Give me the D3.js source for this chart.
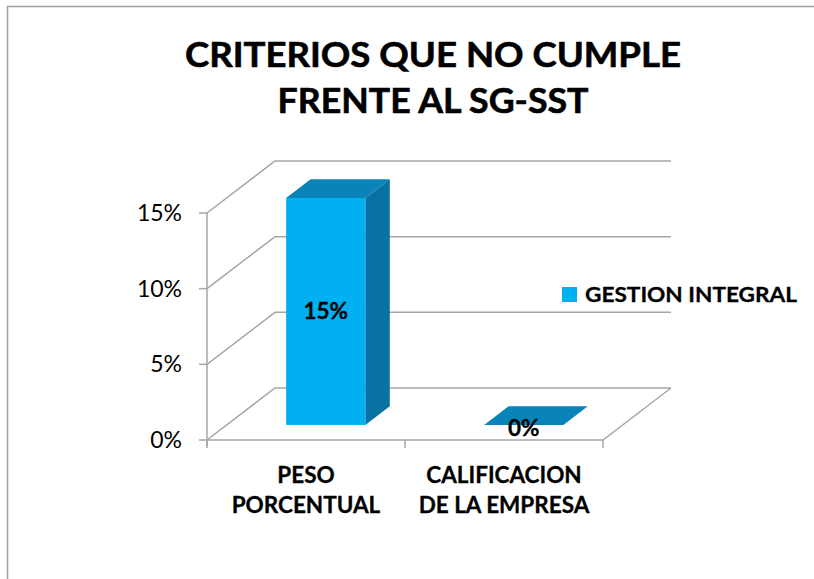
<!DOCTYPE html>
<html>
<head>
<meta charset="utf-8">
<script src="https://cdn.jsdelivr.net/npm/d3@7"></script>
<style>
  html, body { margin: 0; padding: 0; background: #fff; overflow: hidden; }
  svg { display: block; }
  text { font-family: Lato, "Open Sans", sans-serif; fill: #000; }
</style>
</head>
<body>
<svg id="chart" width="814" height="579"></svg>
<script>
const titleLines = ["CRITERIOS QUE NO CUMPLE", "FRENTE AL SG-SST"];
const categories = [["PESO", "PORCENTUAL"], ["CALIFICACION", "DE LA EMPRESA"]];
const seriesName = "GESTION INTEGRAL";
const values = [0.15, 0];
const valueLabels = ["15%", "0%"];
const yTicks = [0, 0.05, 0.10, 0.15];
const yTickLabels = ["0%", "5%", "10%", "15%"];

(function () {
const svg = d3.select("#chart");
const W = 814, H = 579;

svg.append("rect").attr("x", 7.5).attr("y", 6.5).attr("width", W + 10).attr("height", H + 10)
  .attr("fill", "#fff").attr("stroke", "#a0a0a0").attr("stroke-width", 1.5);

const titleWidths = [496, 311];
svg.selectAll("text.title").data(titleLines).enter().append("text")
  .attr("class", "title")
  .attr("x", 433).attr("y", (d, i) => 67 + i * 46)
  .attr("text-anchor", "middle")
  .attr("textLength", (d, i) => titleWidths[i]).attr("lengthAdjust", "spacingAndGlyphs")
  .style("font-size", "35px").style("font-weight", "bold")
  .style("stroke", "#000").style("stroke-width", 0.6)
  .text(d => d);

const left = 207, right = 603;
const DX = 68, DY = -52;
const d0 = 0.29, d1 = 0.65;
const y = d3.scaleLinear().domain([0, 0.15]).range([440, 213]);
const x = d3.scaleBand().domain(d3.range(categories.length)).range([left, right]);
const gridColor = "#a6a6a6";

const g = svg.append("g");

yTicks.forEach(t => {
  const yy = y(t);
  g.append("path")
    .attr("d", `M${left},${yy} L${left + DX},${yy + DY} L${right + DX},${yy + DY}`)
    .attr("fill", "none").attr("stroke", gridColor).attr("stroke-width", 1.5);
  g.append("line").attr("x1", left - 8).attr("x2", left).attr("y1", yy).attr("y2", yy)
    .attr("stroke", gridColor).attr("stroke-width", 1.5);
});

const y0 = y(0);
g.append("path")
  .attr("d", `M${left},${y0} L${right},${y0} L${right + DX},${y0 + DY}`)
  .attr("fill", "none").attr("stroke", gridColor).attr("stroke-width", 1.5);

g.append("line").attr("x1", left).attr("x2", left).attr("y1", y(0.15)).attr("y2", y0 + 6)
  .attr("stroke", gridColor).attr("stroke-width", 1.5);

d3.range(categories.length + 1).forEach(i => {
  const xx = left + i * x.bandwidth();
  g.append("line").attr("x1", xx).attr("x2", xx).attr("y1", y0).attr("y2", y0 + 8)
    .attr("stroke", gridColor).attr("stroke-width", 1.5);
});

svg.selectAll("text.ytick").data(yTicks).enter().append("text")
  .attr("class", "ytick")
  .attr("x", 182).attr("y", d => y(d) + 8)
  .attr("text-anchor", "end")
  .style("font-size", "23px")
  .text((d, i) => yTickLabels[i]);

categories.forEach((lines, i) => {
  const cx = x(i) + x.bandwidth() / 2;
  lines.forEach((ln, j) => {
    svg.append("text").attr("x", cx).attr("y", 483 + j * 30)
      .attr("text-anchor", "middle")
      .style("font-size", "22.5px").style("font-weight", "bold")
      .style("stroke", "#000").style("stroke-width", 0.3)
      .text(ln);
  });
});

const frontCol = "#00b0f0", topCol = "#0a84b8", sideCol = "#0872a3";
values.forEach((v, i) => {
  const bw = x.bandwidth() * 0.4;
  const cx = x(i) + x.bandwidth() / 2;
  const fx0 = cx - bw / 2 + DX * d0, fx1 = cx + bw / 2 + DX * d0;
  const fyb = y(0) + DY * d0, fyt = y(v) + DY * d0;
  const ddx = DX * (d1 - d0), ddy = DY * (d1 - d0);
  if (v > 0) {
    g.append("path")
      .attr("d", `M${fx1},${fyt} L${fx1 + ddx},${fyt + ddy} L${fx1 + ddx},${fyb + ddy} L${fx1},${fyb} Z`)
      .attr("fill", sideCol);
    g.append("rect").attr("x", fx0).attr("y", fyt).attr("width", fx1 - fx0).attr("height", fyb - fyt)
      .attr("fill", frontCol);
  }
  g.append("path")
    .attr("d", `M${fx0},${fyt} L${fx0 + ddx},${fyt + ddy} L${fx1 + ddx},${fyt + ddy} L${fx1},${fyt} Z`)
    .attr("fill", topCol);

  const lx = (fx0 + fx1) / 2;
  const ly = v > 0 ? (fyt + fyb) / 2 + 8 : fyb + 11;
  svg.append("text").attr("x", lx).attr("y", ly)
    .attr("text-anchor", "middle")
    .style("font-size", "22.5px").style("font-weight", "bold")
    .style("stroke", "#000").style("stroke-width", 0.3)
    .text(valueLabels[i]);
});

svg.append("rect").attr("x", 562).attr("y", 287).attr("width", 15).attr("height", 15).attr("fill", frontCol);
svg.append("text").attr("x", 585).attr("y", 302)
  .attr("textLength", 212).attr("lengthAdjust", "spacingAndGlyphs")
  .style("font-size", "21.5px").style("font-weight", "bold")
  .style("stroke", "#000").style("stroke-width", 0.3)
  .text(seriesName);
})();
</script>
</body>
</html>
